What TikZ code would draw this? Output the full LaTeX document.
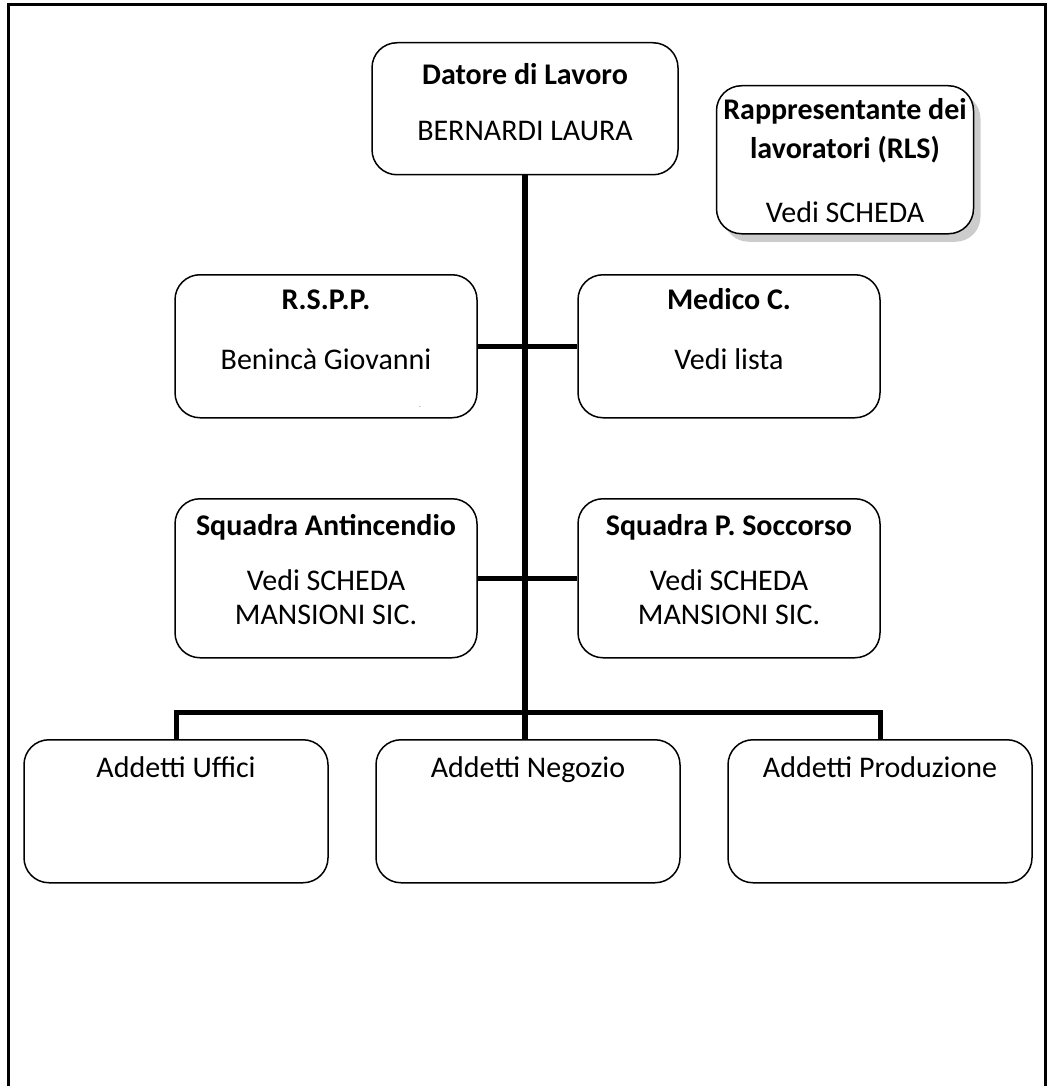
\documentclass[tikz,border=0pt]{standalone}
\usepackage{fontspec}
\setmainfont{Carlito}
\usetikzlibrary{shadows}
\tikzstyle{box}=[draw=black, line width=1.5pt, rounded corners=25pt, align=center, inner xsep=0pt, inner ysep=0pt, anchor=north, font=\fontsize{30}{34}\selectfont]
\tikzstyle{link}=[draw=black, line width=5pt]
\tikzstyle{trunk}=[draw=black, line width=6pt]
\tikzstyle{frame}=[draw=black, line width=3pt]

\begin{document}
\begin{tikzpicture}[x=1pt, y=-1pt]
	\useasboundingbox (0,0) rectangle (1047,1086);
	\draw [frame] (8,1086) -- (8,5) -- (1045,5) -- (1045,1086);
	\begin{scope}
		\node (datore) at (525,42)[box, minimum width=306pt, text height=98pt, text depth=34pt] {\textbf{Datore di Lavoro}\\[22pt]BERNARDI LAURA};
		\node (rls) at (845,85)[box, minimum width=257pt, text height=137pt, text depth=11pt, drop shadow={shadow xshift=7pt, shadow yshift=-8pt, fill=gray!40, opacity=1}, fill=white] {\textbf{Rappresentante dei}\\[5pt]\textbf{lavoratori (RLS)}\\[30pt]Vedi SCHEDA};

		\node (rspp) at (326,274)[box, minimum width=302pt, text height=95pt, text depth=48pt] {\textbf{R.S.P.P.}\\[26pt]Benincà Giovanni};
		\node (medico) at (729,274)[box, minimum width=302pt, text height=95pt, text depth=48pt] {\textbf{Medico C.}\\[26pt]Vedi lista};
		\node (dash) at (420,408)[font=\tiny, inner sep=0pt] {-};

		\node (antincendio) at (326,498)[box, minimum width=302pt, text height=126pt, text depth=33pt] {\textbf{Squadra Antincendio}\\[21pt]Vedi SCHEDA\\MANSIONI SIC.};
		\node (soccorso) at (729,498)[box, minimum width=302pt, text height=126pt, text depth=33pt] {\textbf{Squadra P. Soccorso}\\[21pt]Vedi SCHEDA\\MANSIONI SIC.};

		\node (uffici) at (176,739)[box, minimum width=304pt, text height=38pt, text depth=105pt] {Addetti Uffici};
		\node (negozio) at (528,739)[box, minimum width=304pt, text height=38pt, text depth=105pt] {Addetti Negozio};
		\node (produzione) at (880,739)[box, minimum width=304pt, text height=38pt, text depth=105pt] {Addetti Produzione};
		\coordinate (bar) at (527,712);
	\end{scope}
	\begin{scope}
		\path [trunk] (datore.south) -- (datore.south |- negozio.north);
		\path [link] (rspp.east) -- (medico.west);
		\path [link] (antincendio.east) -- (soccorso.west);
		\path [link] (uffici.north) |- (bar) -| (produzione.north);
	\end{scope}
\end{tikzpicture}
\end{document}
